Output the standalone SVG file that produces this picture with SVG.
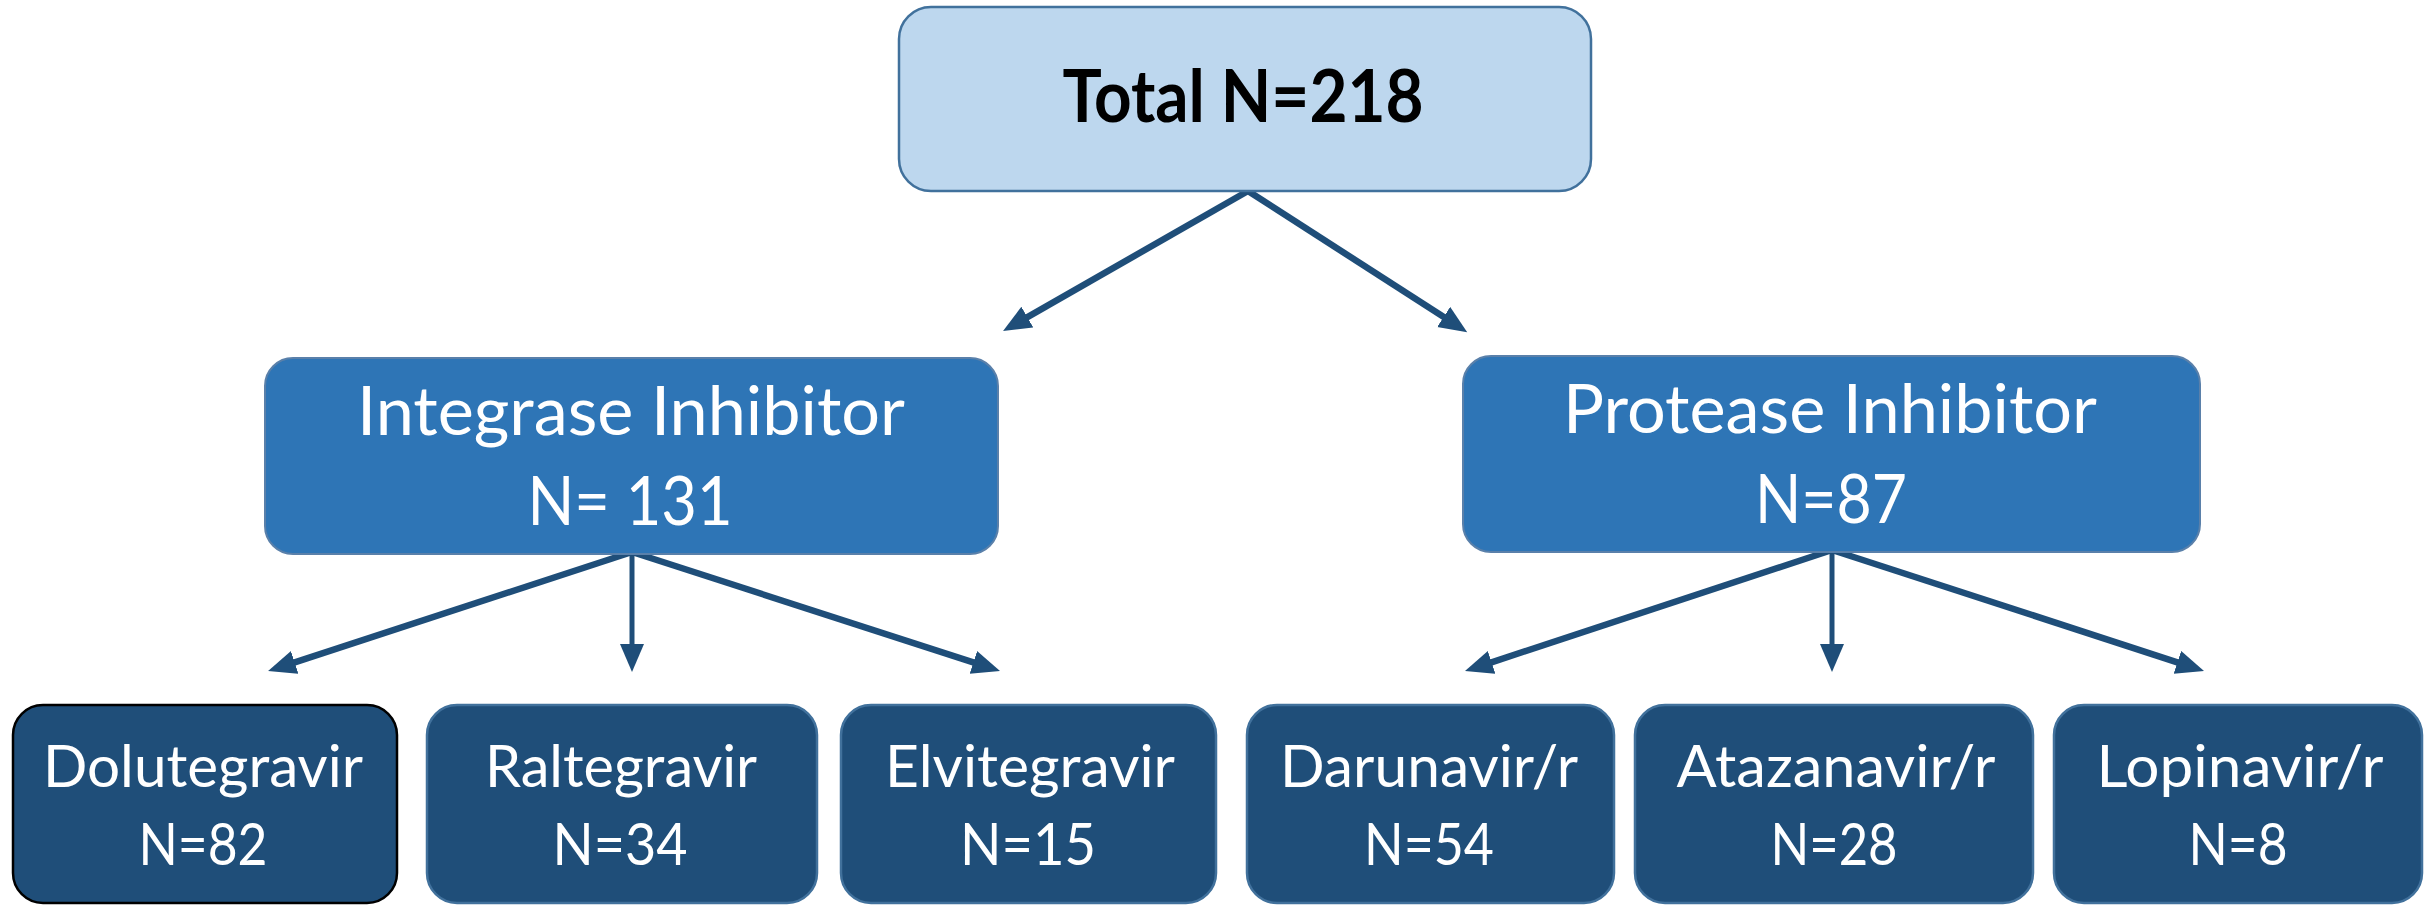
<svg xmlns="http://www.w3.org/2000/svg" width="2425" height="907" viewBox="0 0 2425 907">
<style>
.top{fill:#BDD7EE;stroke:#41719C;stroke-width:2.5}
.mid{fill:#2E75B6;stroke:#5A80AA;stroke-width:2}
.bot{fill:#1F4E79;stroke:#41719C;stroke-width:2.5}
.black{stroke:#000;stroke-width:2.5}
.t{font-family:Lato,"Open Sans","Liberation Sans",sans-serif;text-anchor:middle;fill:#fff}
.tb{font-family:Lato,"Open Sans","Liberation Sans",sans-serif;text-anchor:middle;fill:#000;font-weight:bold;font-size:72px}
.m{font-size:67px}
.s{font-size:58px}
.c{fill:none;stroke:#1F4E79;stroke-width:6.5}
.v{stroke-width:5}
</style>
<defs>
<marker id="ah" markerUnits="userSpaceOnUse" markerWidth="30" markerHeight="26" refX="8" refY="12" orient="auto">
<path d="M0,0 L28,12 L0,24 z" fill="#1F4E79"/>
</marker>
</defs>
<rect width="2425" height="907" fill="#fff"/>
<g id="connectors">
<line class="c" x1="1248" y1="191" x2="1020.4" y2="321.1" marker-end="url(#ah)"/>
<line class="c" x1="1248" y1="191" x2="1450.4" y2="321.3" marker-end="url(#ah)"/>
<line class="c" x1="632" y1="552" x2="287.1" y2="664.8" marker-end="url(#ah)"/>
<line class="c v" x1="632" y1="552" x2="632" y2="652" marker-end="url(#ah)"/>
<line class="c" x1="632" y1="552" x2="981" y2="664.9" marker-end="url(#ah)"/>
<line class="c" x1="1832" y1="550" x2="1484" y2="664.8" marker-end="url(#ah)"/>
<line class="c v" x1="1832" y1="550" x2="1832" y2="652" marker-end="url(#ah)"/>
<line class="c" x1="1832" y1="550" x2="2185" y2="664.8" marker-end="url(#ah)"/>
</g>
<g id="total">
<rect class="top" x="899" y="7" width="692" height="184" rx="32"/>
<text class="tb" x="1243" y="122" textLength="361" lengthAdjust="spacingAndGlyphs">Total N=218</text>
</g>
<g id="integrase">
<rect class="mid" x="265" y="358" width="733" height="196" rx="28"/>
<text class="t m" x="631" y="435" textLength="548" lengthAdjust="spacingAndGlyphs">Integrase Inhibitor</text>
<text class="t m" x="630" y="525" textLength="205" lengthAdjust="spacingAndGlyphs">N= 131</text>
</g>
<g id="protease">
<rect class="mid" x="1463" y="356" width="737" height="196" rx="28"/>
<text class="t m" x="1830" y="433" textLength="534" lengthAdjust="spacingAndGlyphs">Protease Inhibitor</text>
<text class="t m" x="1831" y="523" textLength="152" lengthAdjust="spacingAndGlyphs">N=87</text>
</g>
<g id="dolutegravir">
<rect class="bot black" x="13" y="705" width="384" height="198" rx="30"/>
<text class="t s" x="203" y="787" textLength="320" lengthAdjust="spacingAndGlyphs">Dolutegravir</text>
<text class="t s" x="203" y="865" textLength="129" lengthAdjust="spacingAndGlyphs">N=82</text>
</g>
<g id="raltegravir">
<rect class="bot" x="427" y="705" width="390" height="198" rx="30"/>
<text class="t s" x="621" y="787" textLength="272" lengthAdjust="spacingAndGlyphs">Raltegravir</text>
<text class="t s" x="620" y="865" textLength="135" lengthAdjust="spacingAndGlyphs">N=34</text>
</g>
<g id="elvitegravir">
<rect class="bot" x="841" y="705" width="375" height="198" rx="30"/>
<text class="t s" x="1030" y="787" textLength="290" lengthAdjust="spacingAndGlyphs">Elvitegravir</text>
<text class="t s" x="1028" y="865" textLength="136" lengthAdjust="spacingAndGlyphs">N=15</text>
</g>
<g id="darunavir">
<rect class="bot" x="1247" y="705" width="367" height="198" rx="30"/>
<text class="t s" x="1429" y="787" textLength="298" lengthAdjust="spacingAndGlyphs">Darunavir/r</text>
<text class="t s" x="1429" y="865" textLength="130" lengthAdjust="spacingAndGlyphs">N=54</text>
</g>
<g id="atazanavir">
<rect class="bot" x="1635" y="705" width="398" height="198" rx="30"/>
<text class="t s" x="1836" y="787" textLength="319" lengthAdjust="spacingAndGlyphs">Atazanavir/r</text>
<text class="t s" x="1834" y="865" textLength="127" lengthAdjust="spacingAndGlyphs">N=28</text>
</g>
<g id="lopinavir">
<rect class="bot" x="2054" y="705" width="368" height="198" rx="30"/>
<text class="t s" x="2240" y="787" textLength="287" lengthAdjust="spacingAndGlyphs">Lopinavir/r</text>
<text class="t s" x="2238" y="865" textLength="99" lengthAdjust="spacingAndGlyphs">N=8</text>
</g>
</svg>
